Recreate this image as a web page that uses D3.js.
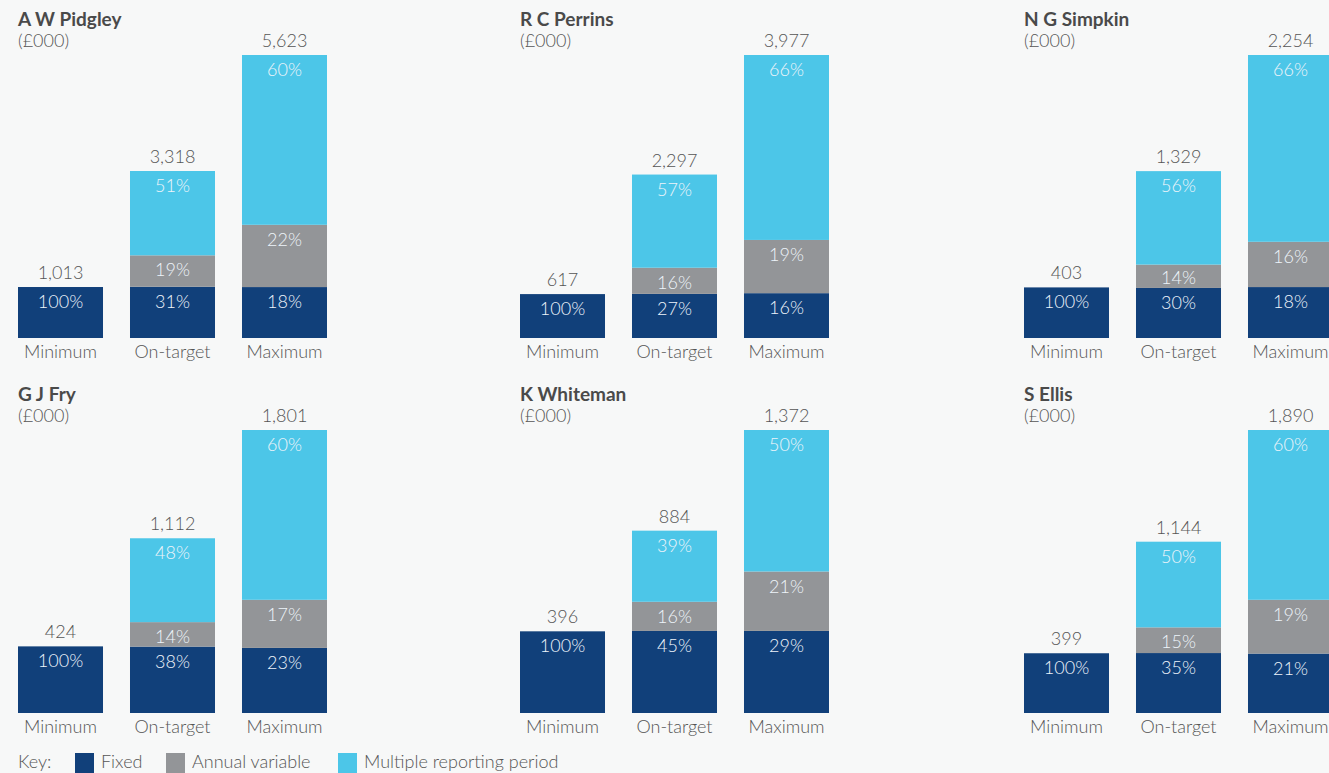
<!DOCTYPE html>
<html>
<head>
<meta charset="utf-8">
<script src="https://cdn.jsdelivr.net/npm/d3@7"></script>
<style>
  body { margin: 0; background: #f7f8f8; }
  svg { display: block; font-family: Lato, "Open Sans", sans-serif; }
  .title { font-weight: 700; fill: #4a4a4a; font-size: 19px; }
  .unit, .cat, .total, .key { fill: #555; font-size: 18px; font-weight: 300; }
  .pct { fill: #eef4fa; font-size: 18px; font-weight: 300; }
</style>
</head>
<body>
<script>
// directors, one panel each
const names = ["A W Pidgley", "R C Perrins", "N G Simpkin", "G J Fry", "K Whiteman", "S Ellis"];
const categories = ["Minimum", "On-target", "Maximum"];
const seriesNames = ["Fixed", "Annual variable", "Multiple reporting period"];
const seriesColors = ["#11407a", "#939598", "#4cc6e8"];

// totals (£000) per scenario
const totals = [
    [1013, 3318, 5623],
    [617, 2297, 3977],
    [403, 1329, 2254],
    [424, 1112, 1801],
    [396, 884, 1372],
    [399, 1144, 1890]
];
// share of each element, %
const fixedPct = [
    [100, 31, 18],
    [100, 27, 16],
    [100, 30, 18],
    [100, 38, 23],
    [100, 45, 29],
    [100, 35, 21]
];
const annualPct = [
    [0, 19, 22],
    [0, 16, 19],
    [0, 14, 16],
    [0, 14, 17],
    [0, 16, 21],
    [0, 15, 19]
];
const multiPct = [
    [0, 51, 60],
    [0, 57, 66],
    [0, 56, 66],
    [0, 48, 60],
    [0, 39, 50],
    [0, 50, 60]
];

var width = 1329, height = 773;
var colX = [18, 520, 1024], rowY = [0, 375];
var barTop = 55, barBottom = 338;

var svg = d3.select("body").append("svg")
    .attr("width", width)
    .attr("height", height);

svg.append("rect").attr("width", width).attr("height", height).attr("fill", "#f7f8f8");

var x = d3.scaleBand().domain(categories).range([0, 309]).paddingInner(0.241).paddingOuter(0);
var stack = d3.stack().keys(seriesNames);
var fmt = d3.format(",");

names.forEach(function(name, p) {
    var g = svg.append("g")
        .attr("transform", "translate(" + colX[p % 3] + "," + rowY[Math.floor(p / 3)] + ")");

    var rows = categories.map(function(c, i) {
        var r = { cat: c, total: totals[p][i] };
        var pcts = [fixedPct[p][i], annualPct[p][i], multiPct[p][i]];
        var sum = d3.sum(pcts);
        seriesNames.forEach(function(s, k) { r[s] = totals[p][i] * pcts[k] / sum; r[s + "_pct"] = pcts[k]; });
        return r;
    });

    var y = d3.scaleLinear().domain([0, d3.max(totals[p])]).range([barBottom, barTop]);

    g.append("text").attr("class", "title").attr("x", 0).attr("y", 26).text(name);
    g.append("text").attr("class", "unit").attr("x", 0).attr("y", 47).text("(£000)");

    var layers = g.selectAll(".layer")
        .data(stack(rows))
        .enter().append("g")
        .attr("class", "layer")
        .attr("fill", function(d, i) { return seriesColors[i]; });

    layers.selectAll("rect")
        .data(function(d) { return d.filter(function(e) { return e[1] > e[0]; }); })
        .enter().append("rect")
        .attr("x", function(d) { return x(d.data.cat); })
        .attr("y", function(d) { return y(d[1]); })
        .attr("width", x.bandwidth())
        .attr("height", function(d) { return y(d[0]) - y(d[1]); });

    layers.each(function(layer) {
        d3.select(this).selectAll("text")
            .data(layer.filter(function(e) { return e[1] > e[0]; }))
            .enter().append("text")
            .attr("class", "pct")
            .attr("text-anchor", "middle")
            .attr("x", function(d) { return x(d.data.cat) + x.bandwidth() / 2; })
            .attr("y", function(d) { return Math.min(y(d[1]) + 21, y(d[0]) - 4); })
            .text(function(d) { return d.data[layer.key + "_pct"] + "%"; });
    });

    g.selectAll(".total")
        .data(rows)
        .enter().append("text")
        .attr("class", "total")
        .attr("text-anchor", "middle")
        .attr("x", function(d) { return x(d.cat) + x.bandwidth() / 2; })
        .attr("y", function(d) { return y(d.total) - 8; })
        .text(function(d) { return fmt(d.total); });

    g.selectAll(".cat")
        .data(categories)
        .enter().append("text")
        .attr("class", "cat")
        .attr("text-anchor", "middle")
        .attr("x", function(d) { return x(d) + x.bandwidth() / 2; })
        .attr("y", barBottom + 20)
        .text(function(d) { return d; });
});

// key
var key = svg.append("g").attr("transform", "translate(18,768)");
key.append("text").attr("class", "key").attr("x", 0).attr("y", 0).text("Key:");
var keyX = [57, 148, 320];
seriesNames.forEach(function(s, i) {
    key.append("rect").attr("x", keyX[i]).attr("y", -15).attr("width", 19).attr("height", 20).attr("fill", seriesColors[i]);
    key.append("text").attr("class", "key").attr("x", keyX[i] + 26).attr("y", 0).text(s);
});
</script>
</body>
</html>
